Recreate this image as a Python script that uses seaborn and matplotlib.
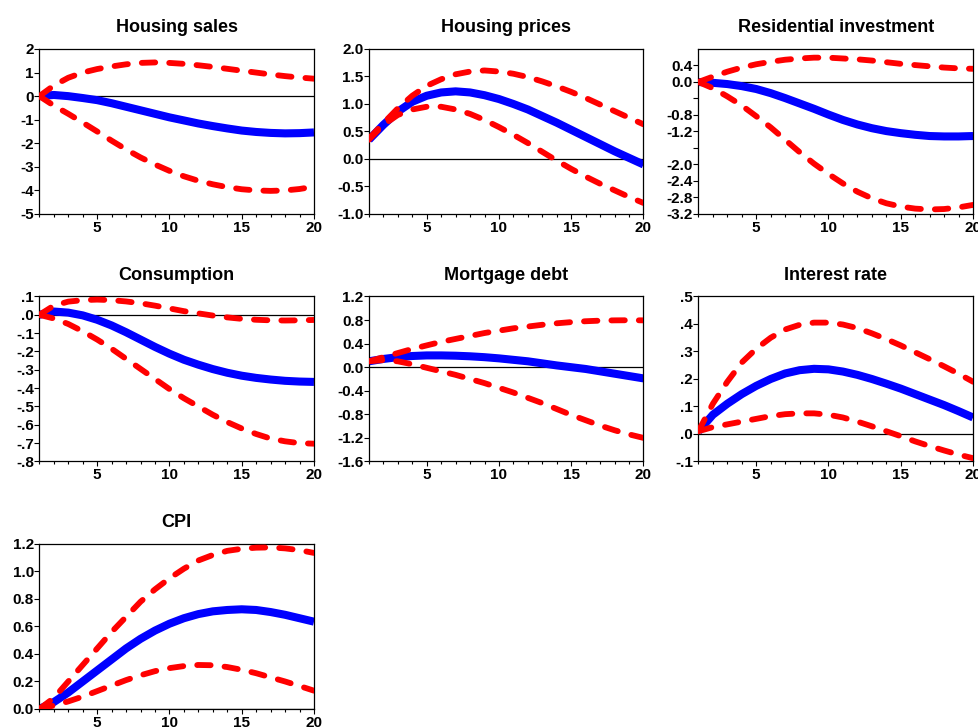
import numpy as np
import pandas as pd
import matplotlib
matplotlib.use("Agg")
import matplotlib.pyplot as plt
from matplotlib.ticker import FixedLocator, MultipleLocator
import seaborn as sns

# Horizon (periods after the shock)
periods = list(range(1, 21))

# Impulse responses with +/- 2 S.E. bands
housing_sales_irf = [0.0, 0.05, 0.0, -0.08, -0.17, -0.3, -0.45, -0.6, -0.75, -0.9,
                     -1.03, -1.16, -1.27, -1.37, -1.46, -1.52, -1.56, -1.58, -1.57, -1.54]
housing_sales_hi = [0.0, 0.45, 0.78, 1.0, 1.15, 1.26, 1.35, 1.41, 1.43, 1.41,
                    1.37, 1.31, 1.24, 1.16, 1.08, 1.0, 0.92, 0.85, 0.79, 0.74]
housing_sales_lo = [0.0, -0.4, -0.75, -1.12, -1.5, -1.89, -2.26, -2.6, -2.9, -3.17,
                    -3.4, -3.59, -3.74, -3.86, -3.95, -4.0, -4.02, -4.0, -3.94, -3.84]

housing_prices_irf = [0.35, 0.62, 0.86, 1.04, 1.15, 1.21, 1.23, 1.21, 1.16, 1.09,
                      1.0, 0.9, 0.78, 0.66, 0.53, 0.4, 0.27, 0.14, 0.02, -0.1]
housing_prices_hi = [0.37, 0.65, 0.92, 1.15, 1.33, 1.45, 1.54, 1.59, 1.61, 1.59,
                     1.55, 1.49, 1.41, 1.32, 1.22, 1.11, 0.99, 0.87, 0.75, 0.63]
housing_prices_lo = [0.35, 0.62, 0.8, 0.9, 0.95, 0.95, 0.9, 0.82, 0.71, 0.58,
                     0.44, 0.29, 0.13, -0.03, -0.18, -0.32, -0.45, -0.57, -0.69, -0.8]

res_invest_irf = [0.0, -0.02, -0.05, -0.1, -0.17, -0.27, -0.39, -0.52, -0.65, -0.79,
                  -0.92, -1.03, -1.12, -1.19, -1.24, -1.28, -1.31, -1.32, -1.32, -1.31]
res_invest_hi = [0.0, 0.13, 0.25, 0.35, 0.43, 0.49, 0.54, 0.57, 0.59, 0.59,
                 0.57, 0.55, 0.52, 0.48, 0.44, 0.41, 0.38, 0.35, 0.33, 0.32]
res_invest_lo = [0.0, -0.15, -0.35, -0.57, -0.83, -1.1, -1.4, -1.7, -1.98, -2.23,
                 -2.46, -2.66, -2.82, -2.94, -3.02, -3.07, -3.09, -3.08, -3.04, -2.98]

consumption_irf = [0.0, 0.018, 0.012, -0.003, -0.027, -0.058, -0.095, -0.135, -0.175, -0.212,
                   -0.245, -0.272, -0.296, -0.316, -0.332, -0.344, -0.353, -0.36, -0.364, -0.366]
consumption_hi = [0.0, 0.05, 0.072, 0.08, 0.083, 0.08, 0.073, 0.063, 0.05, 0.035,
                  0.02, 0.008, -0.004, -0.014, -0.022, -0.027, -0.03, -0.031, -0.03, -0.028]
consumption_lo = [0.0, -0.02, -0.05, -0.09, -0.135, -0.185, -0.24, -0.295, -0.35, -0.405,
                  -0.455, -0.5, -0.545, -0.585, -0.62, -0.65, -0.675, -0.69, -0.7, -0.703]

mortgage_irf = [0.1, 0.14, 0.17, 0.19, 0.2, 0.2, 0.195, 0.185, 0.17, 0.15,
                0.125, 0.1, 0.065, 0.03, 0.0, -0.03, -0.07, -0.11, -0.15, -0.19]
mortgage_hi = [0.1, 0.17, 0.24, 0.31, 0.37, 0.43, 0.48, 0.53, 0.58, 0.62,
               0.66, 0.69, 0.72, 0.745, 0.765, 0.78, 0.79, 0.795, 0.797, 0.795]
mortgage_lo = [0.1, 0.12, 0.1, 0.05, -0.01, -0.07, -0.13, -0.2, -0.27, -0.35,
               -0.43, -0.52, -0.61, -0.71, -0.81, -0.9, -0.99, -1.07, -1.14, -1.2]

interest_irf = [0.01, 0.07, 0.11, 0.145, 0.175, 0.2, 0.22, 0.232, 0.237, 0.235,
                0.227, 0.215, 0.2, 0.183, 0.165, 0.145, 0.125, 0.105, 0.083, 0.06]
interest_hi = [0.01, 0.11, 0.19, 0.26, 0.31, 0.35, 0.38, 0.397, 0.405, 0.405,
               0.398, 0.385, 0.366, 0.345, 0.322, 0.297, 0.272, 0.246, 0.219, 0.19]
interest_lo = [0.01, 0.025, 0.035, 0.045, 0.055, 0.065, 0.072, 0.075, 0.075, 0.07,
               0.06, 0.045, 0.028, 0.01, -0.008, -0.027, -0.044, -0.06, -0.075, -0.088]

cpi_irf = [0.0, 0.05, 0.12, 0.2, 0.28, 0.36, 0.44, 0.51, 0.57, 0.62,
           0.66, 0.69, 0.71, 0.72, 0.725, 0.72, 0.705, 0.685, 0.66, 0.635]
cpi_hi = [0.0, 0.08, 0.2, 0.32, 0.44, 0.56, 0.67, 0.78, 0.87, 0.95,
          1.02, 1.08, 1.12, 1.15, 1.165, 1.173, 1.175, 1.168, 1.155, 1.135]
cpi_lo = [0.0, 0.025, 0.055, 0.09, 0.13, 0.17, 0.21, 0.245, 0.275, 0.297,
          0.312, 0.32, 0.318, 0.305, 0.285, 0.26, 0.23, 0.2, 0.167, 0.133]

titles = ["Housing sales", "Housing prices", "Residential investment",
          "Consumption", "Mortgage debt", "Interest rate", "CPI"]

y_limits = [(-5, 2), (-1.0, 2.0), (-3.2, 0.8), (-0.8, 0.1), (-1.6, 1.2), (-0.1, 0.5), (0.0, 1.2)]
y_ticks = [
    [-5, -4, -3, -2, -1, 0, 1, 2],
    [-1.0, -0.5, 0.0, 0.5, 1.0, 1.5, 2.0],
    [-3.2, -2.8, -2.4, -2.0, -1.6, -1.2, -0.8, -0.4, 0.0, 0.4],
    [-0.8, -0.7, -0.6, -0.5, -0.4, -0.3, -0.2, -0.1, 0.0, 0.1],
    [-1.6, -1.2, -0.8, -0.4, 0.0, 0.4, 0.8, 1.2],
    [-0.1, 0.0, 0.1, 0.2, 0.3, 0.4, 0.5],
    [0.0, 0.2, 0.4, 0.6, 0.8, 1.0, 1.2],
]
y_tick_labels = [
    ["-5", "-4", "-3", "-2", "-1", "0", "1", "2"],
    ["-1.0", "-0.5", "0.0", "0.5", "1.0", "1.5", "2.0"],
    ["-3.2", "-2.8", "-2.4", "-2.0", "", "-1.2", "-0.8", "", "0.0", "0.4"],
    ["-.8", "-.7", "-.6", "-.5", "-.4", "-.3", "-.2", "-.1", ".0", ".1"],
    ["-1.6", "-1.2", "-0.8", "-0.4", "0.0", "0.4", "0.8", "1.2"],
    ["-.1", ".0", ".1", ".2", ".3", ".4", ".5"],
    ["0.0", "0.2", "0.4", "0.6", "0.8", "1.0", "1.2"],
]
x_major_ticks = [5, 10, 15, 20]

responses = [
    (housing_sales_irf, housing_sales_lo, housing_sales_hi),
    (housing_prices_irf, housing_prices_lo, housing_prices_hi),
    (res_invest_irf, res_invest_lo, res_invest_hi),
    (consumption_irf, consumption_lo, consumption_hi),
    (mortgage_irf, mortgage_lo, mortgage_hi),
    (interest_irf, interest_lo, interest_hi),
    (cpi_irf, cpi_lo, cpi_hi),
]

# Long table: one row per (variable, band, period)
rows = []
for title, (irf, lo, hi) in zip(titles, responses):
    for band, vals in (("response", irf), ("lower", lo), ("upper", hi)):
        for p, v in zip(periods, vals):
            rows.append({"variable": title, "band": band, "period": p, "value": v})
df = pd.DataFrame(rows)

sns.set_theme(style="ticks")
plt.rcParams["font.family"] = ["Liberation Sans", "DejaVu Sans"]
plt.rcParams["font.weight"] = "bold"
plt.rcParams["text.color"] = "black"
plt.rcParams["xtick.color"] = "black"
plt.rcParams["ytick.color"] = "black"

fig, axes = plt.subplots(3, 3, figsize=(9.79, 7.27), dpi=100)
fig.subplots_adjust(left=0.0402, right=0.9939, bottom=0.0248, top=0.9326,
                    wspace=0.2, hspace=0.5)

for i, title in enumerate(titles):
    ax = axes.flat[i]
    sub = df[df["variable"] == title]
    ax.axhline(0, color="black", lw=0.9, zorder=1)
    sns.lineplot(data=sub[sub["band"] == "response"], x="period", y="value",
                 ax=ax, color="#0000ff", lw=5.8, solid_capstyle="butt",
                 solid_joinstyle="round", zorder=2)
    for band in ("lower", "upper"):
        sns.lineplot(data=sub[sub["band"] == band], x="period", y="value",
                     ax=ax, color="#ff0000", lw=4.2, zorder=3,
                     linestyle=(0, (2.3, 2.4)), dash_capstyle="round",
                     dash_joinstyle="round")
    ax.set_xlim(1, 20)
    ax.set_ylim(*y_limits[i])
    ax.xaxis.set_major_locator(FixedLocator(x_major_ticks))
    ax.xaxis.set_minor_locator(MultipleLocator(1))
    ax.set_yticks(y_ticks[i])
    ax.set_yticklabels(y_tick_labels[i])
    ax.set_xticklabels([str(t) for t in x_major_ticks])
    ax.set_xlabel("")
    ax.set_ylabel("")
    ax.set_title(title, fontsize=13, fontweight="bold", color="black", pad=12)
    ax.tick_params(axis="both", which="major", direction="out", length=3.5,
                   width=0.8, labelsize=11, colors="black")
    ax.tick_params(axis="y", which="major", pad=0.5)
    ax.tick_params(axis="x", which="major", pad=1.5)
    ax.tick_params(axis="x", which="minor", direction="out", length=2.5, width=0.8)
    ax.tick_params(axis="y", which="minor", left=False)
    for lab in ax.get_xticklabels() + ax.get_yticklabels():
        lab.set_fontweight("bold")
    for spine in ax.spines.values():
        spine.set_visible(True)
        spine.set_color("black")
        spine.set_linewidth(0.9)

for ax in axes.flat[len(titles):]:
    ax.set_visible(False)

fig.savefig("out.png", dpi=100)
